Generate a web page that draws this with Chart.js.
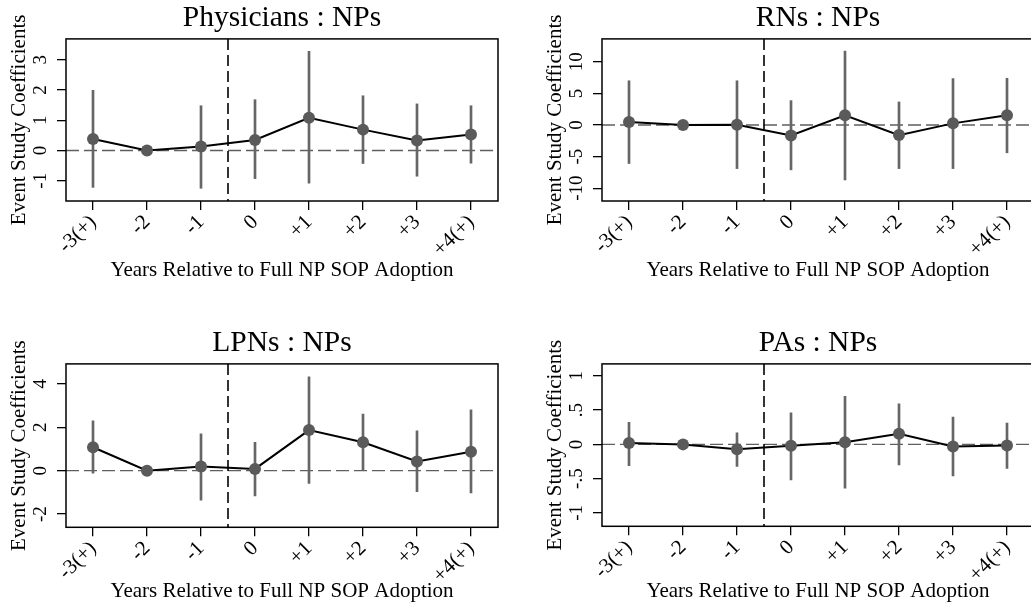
<!DOCTYPE html>
<html>
<head>
<meta charset="utf-8">
<script src="https://cdn.jsdelivr.net/npm/chart.js@4/dist/chart.umd.min.js"></script>
<style>
  body { margin: 0; background: #fff; }
  #wrap { position: relative; width: 1031px; height: 610px; overflow: hidden; background: #fff; }
  canvas { position: absolute; }
</style>
</head>
<body>
<div id="wrap">
  <canvas id="c1" width="515" height="300" style="left:0;top:0"></canvas>
  <canvas id="c2" width="515" height="300" style="left:536px;top:0"></canvas>
  <canvas id="c3" width="515" height="285" style="left:0;top:325px"></canvas>
  <canvas id="c4" width="515" height="285" style="left:536px;top:325px"></canvas>
</div>
<script>
// event time categories
const categories = ["-3(+)", "-2", "-1", "0", "+1", "+2", "+3", "+4(+)"];

// Physicians : NPs
const physCoef = [0.38, 0, 0.13, 0.35, 1.08, 0.69, 0.33, 0.53];
const physLo = [-1.22, null, -1.25, -0.93, -1.08, -0.43, -0.85, -0.42];
const physHi = [1.99, null, 1.48, 1.68, 3.28, 1.81, 1.54, 1.48];
const physTicks = [-1, 0, 1, 2, 3];
const physTickLabels = ["-1", "0", "1", "2", "3"];

// RNs : NPs
const rnCoef = [0.47, 0, 0.05, -1.65, 1.53, -1.6, 0.26, 1.53];
const rnLo = [-6.1, null, -6.9, -7.1, -8.7, -6.9, -6.9, -4.4];
const rnHi = [7.0, null, 7.0, 3.86, 11.7, 3.65, 7.35, 7.4];
const rnTicks = [-10, -5, 0, 5, 10];
const rnTickLabels = ["-10", "-5", "0", "5", "10"];

// LPNs : NPs
const lpnCoef = [1.08, 0, 0.19, 0.08, 1.87, 1.31, 0.42, 0.87];
const lpnLo = [-0.12, null, -1.36, -1.16, -0.59, 0.02, -0.97, -1.02];
const lpnHi = [2.3, null, 1.7, 1.31, 4.32, 2.61, 1.84, 2.8];
const lpnTicks = [-2, 0, 2, 4];
const lpnTickLabels = ["-2", "0", "2", "4"];

// PAs : NPs
const paCoef = [0.02, 0, -0.07, -0.02, 0.03, 0.155, -0.03, -0.015];
const paLo = [-0.31, null, -0.32, -0.52, -0.64, -0.3, -0.46, -0.35];
const paHi = [0.32, null, 0.17, 0.46, 0.70, 0.59, 0.40, 0.31];
const paTicks = [-1, -0.5, 0, 0.5, 1];
const paTickLabels = ["-1", "-.5", "0", ".5", "1"];

const serif = "'Liberation Serif', 'Times New Roman', serif";

// box, dashed reference lines and rotated y tick labels
const decorPlugin = {
  id: "decor",
  beforeDatasetsDraw(chart) {
    const { ctx, chartArea: a, scales: { x, y } } = chart;
    ctx.save();
    ctx.beginPath();
    ctx.rect(a.left, a.top, a.right - a.left, a.bottom - a.top);
    ctx.clip();
    // zero line
    const y0 = y.getPixelForValue(0);
    ctx.strokeStyle = "#5f5f5f";
    ctx.lineWidth = 1.3;
    ctx.setLineDash([13, 5]);
    ctx.beginPath();
    ctx.moveTo(a.left, y0);
    ctx.lineTo(a.right, y0);
    ctx.stroke();
    // adoption line between -1 and 0
    const xv = (x.getPixelForValue(2) + x.getPixelForValue(3)) / 2;
    ctx.strokeStyle = "#000";
    ctx.lineWidth = 1.6;
    ctx.setLineDash([11, 5]);
    ctx.beginPath();
    ctx.moveTo(xv, a.top);
    ctx.lineTo(xv, a.bottom);
    ctx.stroke();
    ctx.restore();
  },
  afterDraw(chart, args, opts) {
    const { ctx, chartArea: a, scales: { y } } = chart;
    ctx.save();
    ctx.strokeStyle = "#000";
    ctx.lineWidth = 1.5;
    ctx.strokeRect(a.left, a.top, a.right - a.left, a.bottom - a.top);
    ctx.fillStyle = "#000";
    ctx.font = "19px " + serif;
    ctx.textAlign = "center";
    ctx.textBaseline = "alphabetic";
    opts.ticks.forEach((v, i) => {
      ctx.save();
      ctx.translate(a.left - 20, y.getPixelForValue(v));
      ctx.rotate(-Math.PI / 2);
      ctx.fillText(opts.labels[i], 0, 0);
      ctx.restore();
    });
    ctx.restore();
  }
};

function makePanel(id, title, coef, lo, hi, ticks, tickLabels, ymin, ymax, xHeight, xTitlePad) {
  new Chart(document.getElementById(id), {
    type: "bar",
    data: {
      labels: categories,
      datasets: [
        {
          type: "line",
          data: coef,
          borderColor: "#000",
          borderWidth: 2,
          pointRadius: 6,
          pointBackgroundColor: "#5a5a5a",
          pointBorderWidth: 0,
          order: 1
        },
        {
          data: lo.map((v, i) => (v === null ? null : [v, hi[i]])),
          backgroundColor: "#666",
          barThickness: 2,
          order: 2
        }
      ]
    },
    options: {
      responsive: false,
      animation: false,
      layout: { padding: { left: 0, right: 17, top: 0, bottom: 0 } },
      plugins: {
        legend: { display: false },
        tooltip: { enabled: false },
        title: {
          display: true,
          text: title,
          fullSize: false,
          color: "#000",
          font: { family: serif, size: 29.5, weight: "normal" },
          padding: { top: 1, bottom: 2.5 }
        },
        decor: { ticks: ticks, labels: tickLabels }
      },
      scales: {
        x: {
          offset: true,
          grid: { offset: false, drawOnChartArea: false, drawTicks: true, tickLength: 9, color: "#000", lineWidth: 1.3 },
          border: { display: false },
          ticks: { color: "#000", font: { family: serif, size: 21 }, minRotation: 45, maxRotation: 45, padding: 0, autoSkip: false },
          title: {
            display: true,
            text: "Years Relative to Full NP SOP Adoption",
            color: "#000",
            font: { family: serif, size: 21 },
            padding: { top: 0, bottom: xTitlePad }
          },
          afterFit: s => { s.height = xHeight; }
        },
        y: {
          min: ymin,
          max: ymax,
          afterBuildTicks: s => { s.ticks = ticks.map(v => ({ value: v })); },
          grid: { drawOnChartArea: false, drawTicks: true, tickLength: 9, color: "#000", lineWidth: 1.3 },
          border: { display: false },
          ticks: { display: false },
          title: {
            display: true,
            text: "Event Study Coefficients",
            color: "#000",
            font: { family: serif, size: 21 },
            padding: { top: 6.5, bottom: 0 }
          },
          afterFit: s => { s.width = 66; }
        }
      }
    },
    plugins: [decorPlugin]
  });
}

makePanel("c1", "Physicians : NPs", physCoef, physLo, physHi, physTicks, physTickLabels, -1.67, 3.69, 99, 17.2);
makePanel("c2", "RNs : NPs", rnCoef, rnLo, rnHi, rnTicks, rnTickLabels, -12.03, 13.63, 99, 17.2);
makePanel("c3", "LPNs : NPs", lpnCoef, lpnLo, lpnHi, lpnTicks, lpnTickLabels, -2.61, 4.92, 82.7, 5.8);
makePanel("c4", "PAs : NPs", paCoef, paLo, paHi, paTicks, paTickLabels, -1.195, 1.174, 83.7, 5.8);
</script>
</body>
</html>
